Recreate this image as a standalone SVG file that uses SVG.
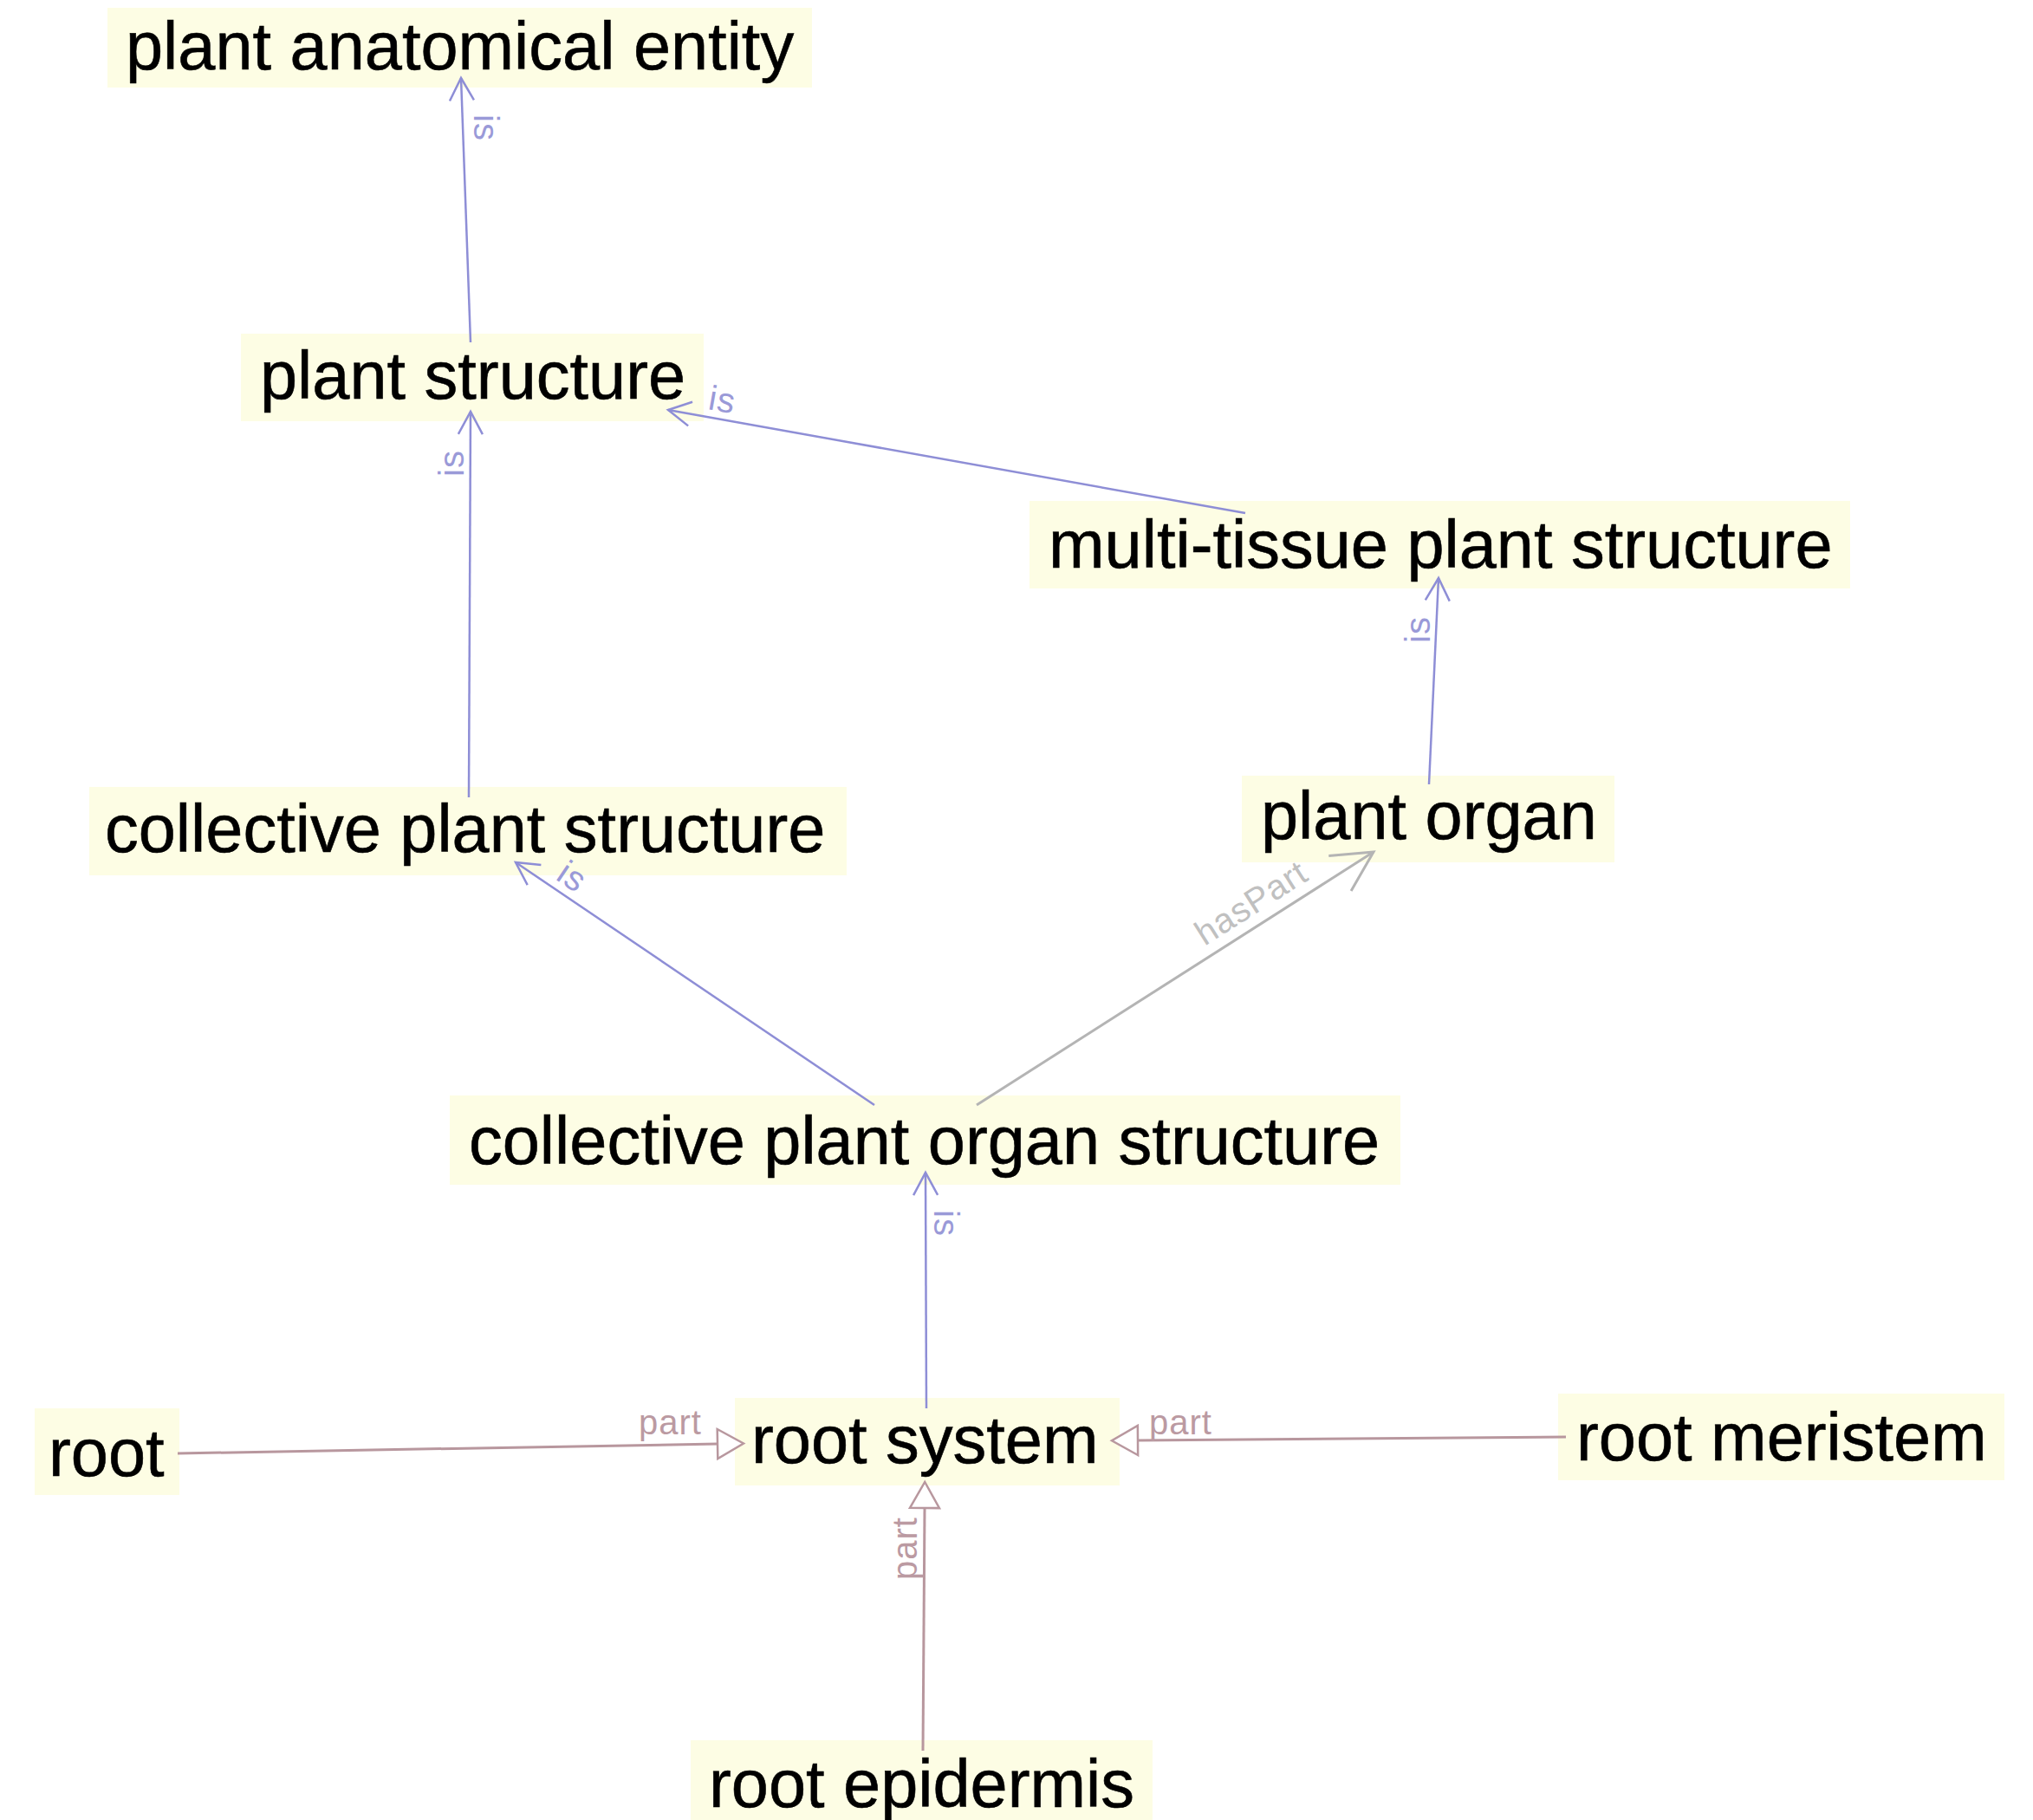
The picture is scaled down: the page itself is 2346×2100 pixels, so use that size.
<svg xmlns="http://www.w3.org/2000/svg" width="2346" height="2100" viewBox="0 0 2346 2100">
  <style>
    .box { fill: #fdfde4; stroke: none; }
    .label { font-family: "Liberation Sans", Arial, sans-serif; font-size: 77.5px; fill: #000; stroke: #000; stroke-width: 0.6px; }
    .edge { fill: none; stroke-width: 2.5; }
    .is { stroke: #8e8ed6; }
    .part { stroke: #b8979e; stroke-width: 3; }
    .haspart { stroke: #b4b4b4; stroke-width: 3; }
    .elabel { font-family: "Liberation Sans", Arial, sans-serif; font-size: 40px; letter-spacing: 1px; }
    .is-t { fill: #9a9ad8; }
    .part-t { fill: #bb9aa2; }
    .haspart-t { fill: #c0c0c0; }
  </style>
  <defs>
    <marker id="head-is" markerUnits="userSpaceOnUse" viewBox="-32 -20 36 40" refX="0" refY="0" markerWidth="36" markerHeight="40" orient="auto" overflow="visible">
      <path d="M -26 -14 L 0 0 L -26 14" fill="none" stroke="#8e8ed6" stroke-width="2.5"/>
    </marker>
    <marker id="head-haspart" markerUnits="userSpaceOnUse" viewBox="-50 -30 54 60" refX="0" refY="0" markerWidth="54" markerHeight="60" orient="auto" overflow="visible">
      <path d="M -46 -24 L 0 0 L -46 24" fill="none" stroke="#b4b4b4" stroke-width="3"/>
    </marker>
    <marker id="head-part" markerUnits="userSpaceOnUse" viewBox="-2 -20 36 40" refX="0" refY="0" markerWidth="36" markerHeight="40" orient="auto" overflow="visible">
      <path d="M 0 -17 L 30 0 L 0 17 Z" fill="#ffffff" stroke="#b8979e" stroke-width="2.5"/>
    </marker>
  </defs>

  <rect width="2346" height="2100" fill="#ffffff"/>

  <!-- nodes -->
  <g id="plant-anatomical-entity">
    <rect class="box" x="124" y="9" width="813" height="92"/>
    <text class="label" x="145" y="80">plant anatomical entity</text>
  </g>
  <g id="plant-structure">
    <rect class="box" x="278" y="385" width="534" height="101"/>
    <text class="label" x="300" y="460">plant structure</text>
  </g>
  <g id="multi-tissue-plant-structure">
    <rect class="box" x="1188" y="578" width="947" height="101"/>
    <text class="label" x="1210" y="655">multi-tissue plant structure</text>
  </g>
  <g id="collective-plant-structure">
    <rect class="box" x="103" y="908" width="874" height="102"/>
    <text class="label" x="121" y="983">collective plant structure</text>
  </g>
  <g id="plant-organ">
    <rect class="box" x="1433" y="895" width="430" height="100"/>
    <text class="label" x="1455" y="968">plant organ</text>
  </g>
  <g id="collective-plant-organ-structure">
    <rect class="box" x="519" y="1264" width="1097" height="103"/>
    <text class="label" x="541" y="1343">collective plant organ structure</text>
  </g>
  <g id="root">
    <rect class="box" x="40" y="1625" width="167" height="100"/>
    <text class="label" x="56" y="1703">root</text>
  </g>
  <g id="root-system">
    <rect class="box" x="848" y="1613" width="444" height="101"/>
    <text class="label" x="867" y="1688">root system</text>
  </g>
  <g id="root-meristem">
    <rect class="box" x="1798" y="1608" width="515" height="100"/>
    <text class="label" x="1819" y="1685">root meristem</text>
  </g>
  <g id="root-epidermis">
    <rect class="box" x="797" y="2008" width="533" height="92"/>
    <text class="label" x="818" y="2085">root epidermis</text>
  </g>

  <!-- connectors -->
  <g id="connectors">
    <!-- is -->
    <path class="edge is" d="M 543 395 L 532 90" marker-end="url(#head-is)"/>
    <text class="elabel is-t" transform="translate(547 132) rotate(90)">is</text>

    <path class="edge is" d="M 541 920 L 543 475" marker-end="url(#head-is)"/>
    <text class="elabel is-t" transform="translate(535 550) rotate(-90)">is</text>

    <path class="edge is" d="M 1437 592 L 771 473" marker-end="url(#head-is)"/>
    <text class="elabel is-t" transform="translate(816 472) rotate(10)">is</text>

    <path class="edge is" d="M 1649 905 L 1660 667" marker-end="url(#head-is)"/>
    <text class="elabel is-t" transform="translate(1650 742) rotate(-90)">is</text>

    <path class="edge is" d="M 1009 1275 L 595 995" marker-end="url(#head-is)"/>
    <text class="elabel is-t" transform="translate(640 1014) rotate(34)">is</text>

    <path class="edge is" d="M 1069 1625 L 1068 1353" marker-end="url(#head-is)"/>
    <text class="elabel is-t" transform="translate(1078 1396) rotate(90)">is</text>

    <!-- hasPart -->
    <path class="edge haspart" d="M 1127 1275 L 1585 983" marker-end="url(#head-haspart)"/>
    <text class="elabel haspart-t" transform="translate(1390 1092) rotate(-32.5)">hasPart</text>

    <!-- part -->
    <path class="edge part" d="M 205 1677 L 828 1666" marker-end="url(#head-part)"/>
    <text class="elabel part-t" x="737" y="1655">part</text>

    <path class="edge part" d="M 1807 1658 L 1313 1662" marker-end="url(#head-part)"/>
    <text class="elabel part-t" x="1326" y="1655">part</text>

    <path class="edge part" d="M 1065 2020 L 1067 1740" marker-end="url(#head-part)"/>
    <text class="elabel part-t" transform="translate(1058 1823) rotate(-90)">part</text>
  </g>
</svg>
